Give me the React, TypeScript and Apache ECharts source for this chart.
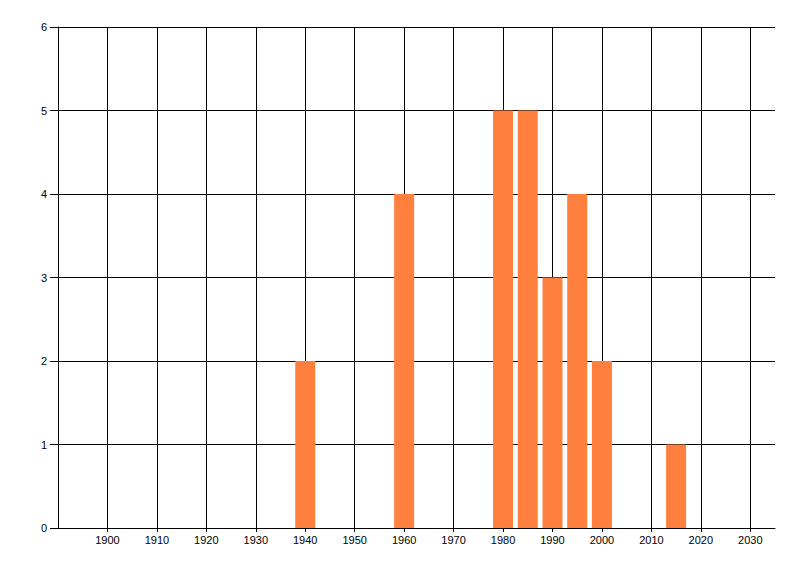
import { useRef, useEffect } from 'react'
import * as echarts from 'echarts'

// 年份与对应数量
const years = [1940, 1960, 1980, 1985, 1990, 1995, 2000, 2015]
const counts = [2, 4, 5, 5, 3, 4, 2, 1]
const xTicks = [1900, 1910, 1920, 1930, 1940, 1950, 1960, 1970, 1980, 1990, 2000, 2010, 2020, 2030]

export default function App() {
  const chartRef = useRef<HTMLDivElement>(null)

  useEffect(() => {
    document.body.style.margin = '0'
    if (!chartRef.current) return
    const chart = echarts.init(chartRef.current, undefined, { renderer: 'svg' })

    const labelStyle = { color: '#000', fontSize: 11, fontFamily: 'Liberation Sans, Arial, sans-serif' }

    chart.setOption({
      animation: false,
      backgroundColor: '#fff',
      grid: { left: 58, right: 25, top: 27, bottom: 48 },
      xAxis: {
        type: 'value',
        min: 1890,
        max: 2035,
        interval: 10,
        axisLine: { lineStyle: { color: '#000', width: 1 } },
        axisTick: { show: true, length: 4, customValues: xTicks, lineStyle: { color: '#000' } },
        axisLabel: { ...labelStyle, margin: 6, customValues: xTicks, formatter: (v: number) => String(v) },
        splitLine: { show: true, showMinLine: true, showMaxLine: true, lineStyle: { color: '#000', width: 1 } },
      },
      yAxis: {
        type: 'value',
        min: 0,
        max: 6,
        interval: 1,
        axisLine: { show: true, lineStyle: { color: '#000', width: 1 } },
        axisTick: { show: true, length: 8, lineStyle: { color: '#000' } },
        axisLabel: { ...labelStyle, margin: 11 },
        splitLine: { show: true, showMinLine: false, lineStyle: { color: '#000', width: 1 } },
      },
      series: [
        {
          type: 'bar',
          data: years.map((y, i) => [y, counts[i]]),
          barWidth: 20,
          itemStyle: { color: '#ff7f3f' },
        },
      ],
    })

    return () => {
      chart.dispose()
    }
  }, [])

  return <div ref={chartRef} style={{ width: 800, height: 576 }} />
}
